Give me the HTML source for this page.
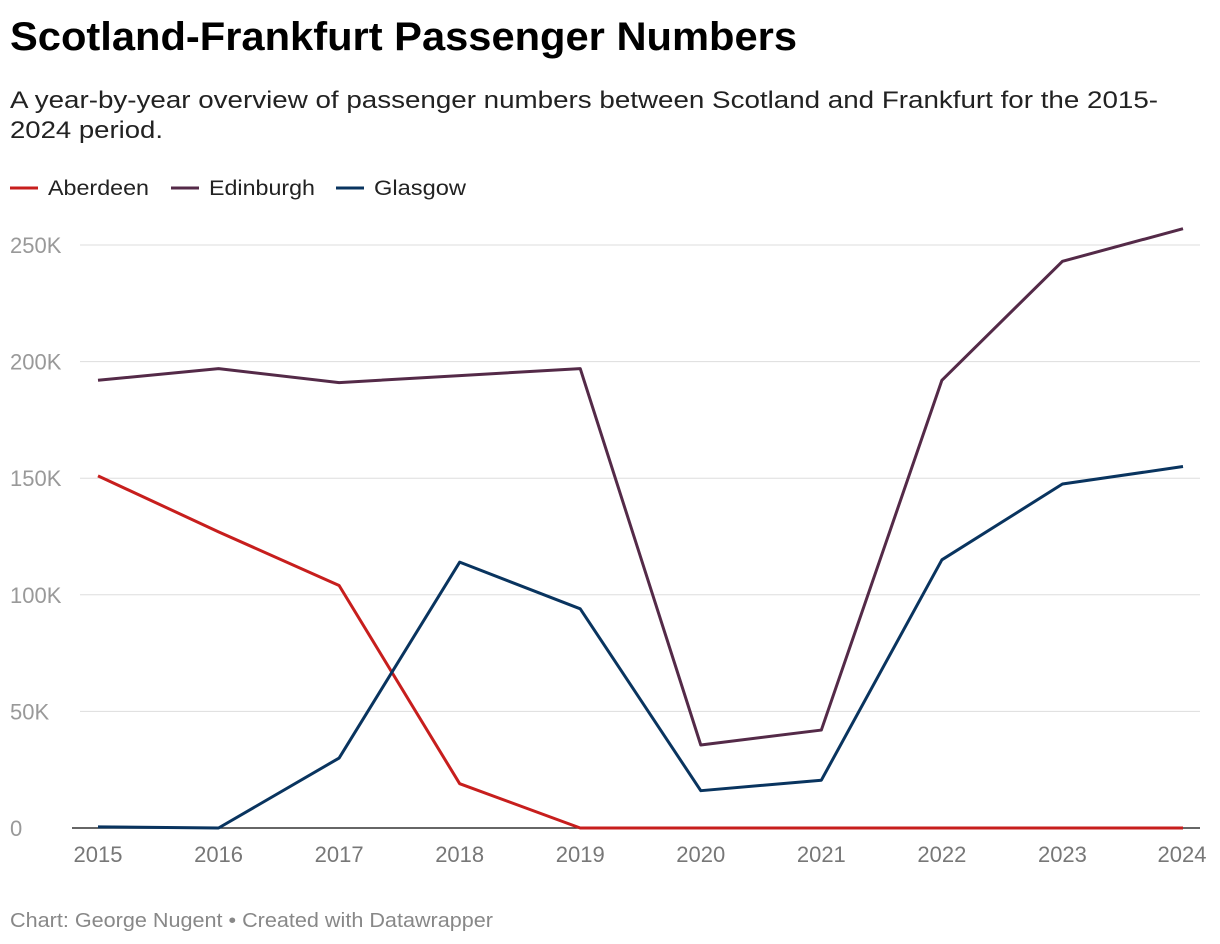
<!DOCTYPE html>
<html><head><meta charset="utf-8"><style>
body{margin:0;background:#fff;font-family:"Liberation Sans",sans-serif;}
svg{display:block}
</style></head><body>
<svg id="c" width="1220" height="944" xmlns="http://www.w3.org/2000/svg">
<text x="10" y="50" font-size="40" font-weight="bold" fill="#000" textLength="787" lengthAdjust="spacingAndGlyphs">Scotland-Frankfurt Passenger Numbers</text>
<text x="10" y="108" font-size="24" fill="#222"><tspan x="10" textLength="1148" lengthAdjust="spacingAndGlyphs">A year-by-year overview of passenger numbers between Scotland and Frankfurt for the 2015-</tspan><tspan x="10" dy="30" textLength="153" lengthAdjust="spacingAndGlyphs">2024 period.</tspan></text>
<g id="legend"></g>
<g id="grid"></g><g id="lines"></g>
<text x="10" y="927" font-size="20" fill="#888" textLength="483" lengthAdjust="spacingAndGlyphs">Chart: George Nugent • Created with Datawrapper</text>
</svg>
<script>
const years=[2015,2016,2017,2018,2019,2020,2021,2022,2023,2024];
const aberdeen=[151,127,104,19,0,0,0,0,0,0];
const edinburgh=[192,197,191,194,197,35.6,42,192,243,257];
const glasgow=[0.5,0,30,114,94,16,20.5,115,147.5,155];
const yTicks=[0,50,100,150,200,250];
const yTickLabels=["0","50K","100K","150K","200K","250K"];
const NS="http://www.w3.org/2000/svg";
const x=i=>98+i*(1183-98)/(years.length-1);
const y=v=>828-v*(828-245)/250;
function mk(t,a,p){const e=document.createElementNS(NS,t);for(const k in a)e.setAttribute(k,a[k]);p.appendChild(e);return e;}
const grid=document.getElementById('grid'),lines=document.getElementById('lines'),leg=document.getElementById('legend');
yTicks.forEach((v,i)=>{
  const l=mk('line',{x1:i==0?72:80,x2:1200,y1:y(v),y2:y(v),stroke:i==0?'#333':'#ddd','stroke-width':i==0?1.5:1},grid);
  
  
  const t=mk('text',{x:10,y:y(v)+8,'font-size':22,fill:'#999'},grid);t.textContent=yTickLabels[i];
  
  
});
years.forEach((yr,i)=>{
  const t=mk('text',{x:x(i)+(i==years.length-1?-1:0),y:862,'font-size':22,fill:'#777','text-anchor':'middle'},grid);t.textContent=yr;
  
  
});
const series=[["Aberdeen",aberdeen,"#c71e1d"],["Edinburgh",edinburgh,"#542a48"],["Glasgow",glasgow,"#09345f"]];
const legX=[10,171,336];
const legW=[101,106,92];
series.forEach((s,k)=>{
  const p=mk('polyline',{points:s[1].map((v,i)=>x(i)+','+y(v)).join(' '),fill:'none',stroke:s[2],'stroke-width':3,'stroke-linejoin':'round'},lines);
  
  
  const g=mk('g',{},leg);
  
  
  mk('line',{x1:legX[k],x2:legX[k]+28,y1:188,y2:188,stroke:s[2],'stroke-width':3},g);
  const t=mk('text',{x:legX[k]+38,y:195,'font-size':21,fill:'#222',textLength:legW[k],lengthAdjust:'spacingAndGlyphs'},g);t.textContent=s[0];
});
</script>
</body></html>
